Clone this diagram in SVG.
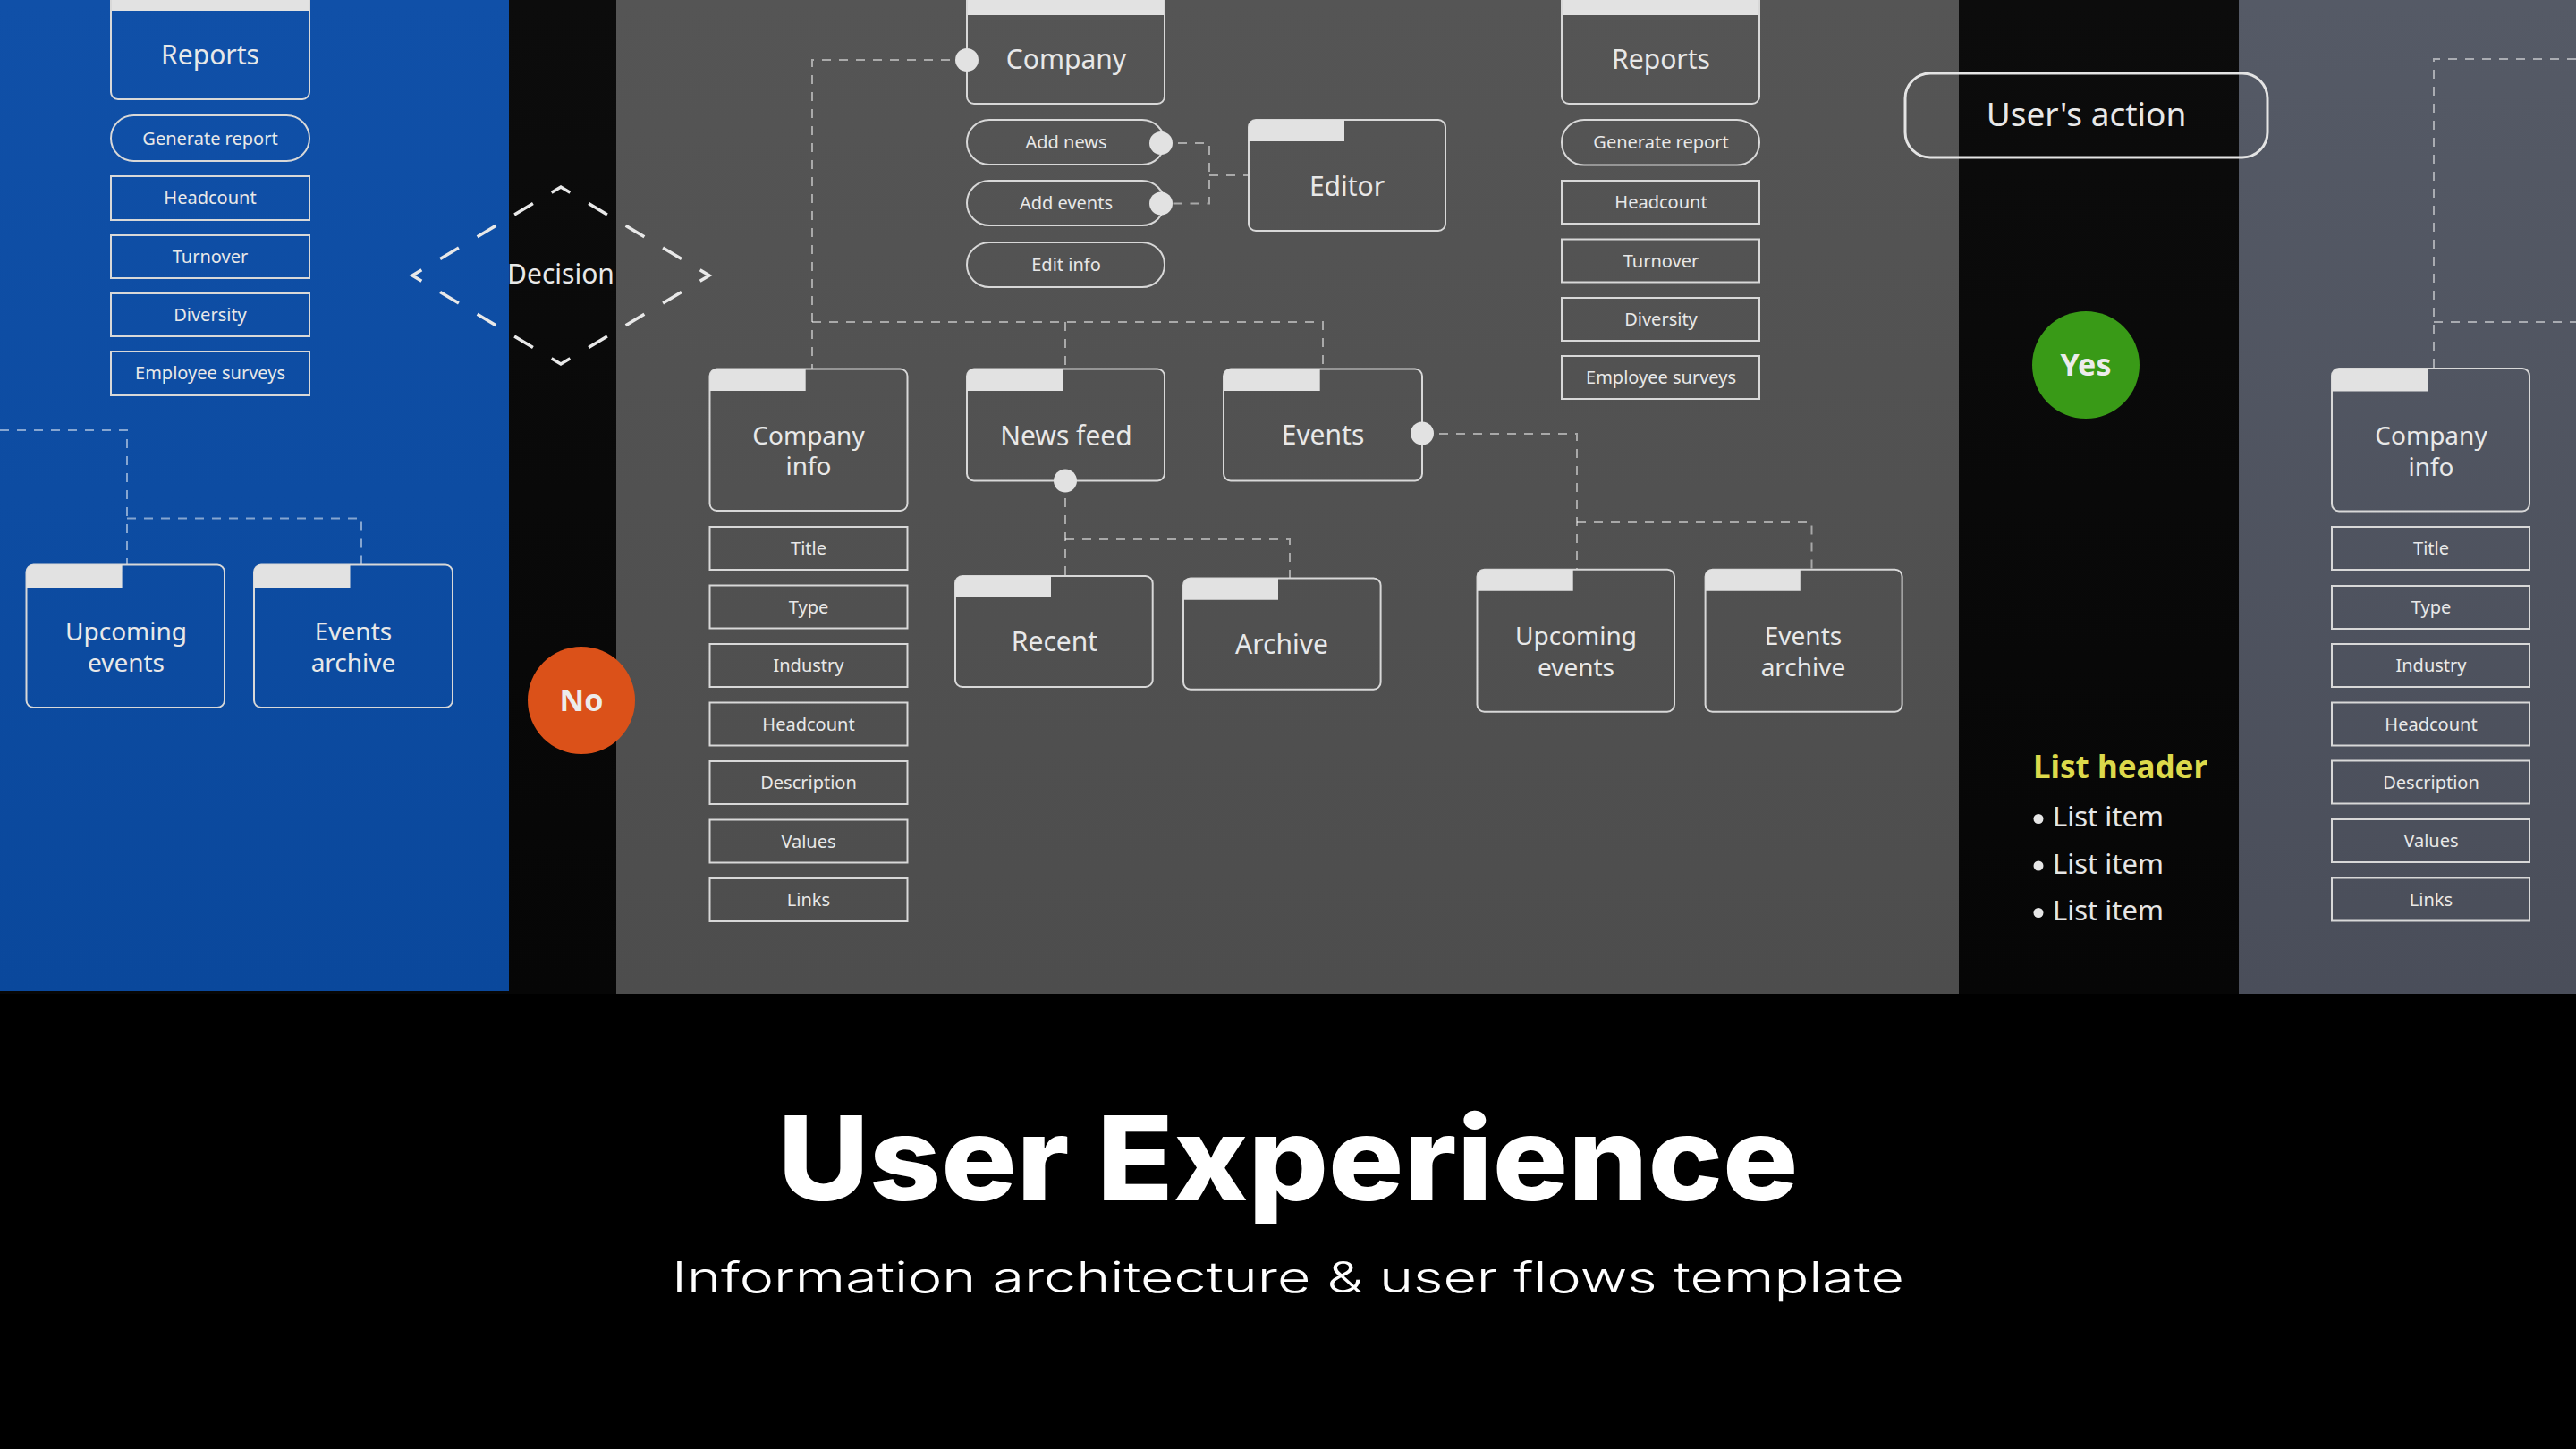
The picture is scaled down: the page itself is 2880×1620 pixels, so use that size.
<svg xmlns="http://www.w3.org/2000/svg" width="2880" height="1620" viewBox="0 0 2880 1620">
<defs>
<linearGradient id="gBlue" x1="0" y1="0" x2="0" y2="1"><stop offset="0" stop-color="#1050a8"/><stop offset="1" stop-color="#0a489c"/></linearGradient>
<linearGradient id="gGrey" x1="0" y1="0" x2="0" y2="1"><stop offset="0" stop-color="#555555"/><stop offset="1" stop-color="#4d4d4d"/></linearGradient>
<linearGradient id="gSlate" x1="0" y1="0" x2="0" y2="1"><stop offset="0" stop-color="#555a66"/><stop offset="1" stop-color="#4a4e5a"/></linearGradient>
<linearGradient id="gBlack" x1="0" y1="0" x2="0" y2="1"><stop offset="0" stop-color="#0c0c0c"/><stop offset="1" stop-color="#060606"/></linearGradient>
</defs>
<style>
.box{fill:none;stroke:#d8d8d8;stroke-width:2}
.tab{fill:#e2e2e2}
.dot{fill:#e2e2e2}
.lbl{font-family:"Noto Sans","Open Sans",sans-serif;fill:#e8e8e8;text-anchor:middle}
.big{font-size:30px}
.two{font-size:28px}
.sm{font-size:20px}
.conn{fill:none;stroke:#ffffff;stroke-opacity:0.5;stroke-width:2;stroke-dasharray:10 9}
.badge{font-family:"Noto Sans","Open Sans",sans-serif;font-weight:700;font-size:34px;fill:#ececec;text-anchor:middle}
</style>

<!-- backgrounds -->
<rect x="0" y="0" width="2880" height="1620" fill="#000000"/>
<rect x="0" y="0" width="2880" height="1111" fill="url(#gBlack)"/>
<rect x="0" y="0" width="569" height="1108" fill="url(#gBlue)"/>
<rect x="689" y="0" width="1501" height="1111" fill="url(#gGrey)"/>
<rect x="2503" y="0" width="377" height="1111" fill="url(#gSlate)"/>

<!-- connectors -->
<g id="connectors">
<path class="conn" d="M0,481 H142 V631"/>
<path class="conn" d="M142,579.5 H404 V631"/>
<path class="conn" d="M1081,67 H908 V412"/>
<path class="conn" d="M908,360 H1479 V412"/>
<path class="conn" d="M1191,360 V412"/>
<path class="conn" d="M1298,160 H1352 V227.5 H1298"/>
<path class="conn" d="M1352,196 H1396"/>
<path class="conn" d="M1191,538 V644"/>
<path class="conn" d="M1191,603 H1442 V646"/>
<path class="conn" d="M1590,485 H1763 V636"/>
<path class="conn" d="M1763,584 H2025.5 V636"/>
<path class="conn" d="M2880,66 H2721 V412"/>
<path class="conn" d="M2721,360 H2880"/>
</g>

<!-- Blue panel -->
<g id="reports-blue">
<rect class="box" x="124" y="-40" width="222" height="151" rx="8"/>
<rect class="tab" x="125" y="0" width="220" height="12"/>
<text class="lbl big" x="235" y="72">Reports</text>
</g>
<g id="generate-report-blue">
<rect class="box" x="124" y="129" width="222" height="51" rx="25.5"/>
<text class="lbl sm" x="235" y="162">Generate report</text>
</g>
<g id="headcount-blue"><rect class="box" x="124" y="197" width="222" height="49"/><text class="lbl sm" x="235" y="228">Headcount</text></g>
<g id="turnover-blue"><rect class="box" x="124" y="263" width="222" height="48"/><text class="lbl sm" x="235" y="293.5">Turnover</text></g>
<g id="diversity-blue"><rect class="box" x="124" y="328" width="222" height="48"/><text class="lbl sm" x="235" y="358.5">Diversity</text></g>
<g id="surveys-blue"><rect class="box" x="124" y="393" width="222" height="49"/><text class="lbl sm" x="235" y="424">Employee surveys</text></g>
<g id="upcoming-blue">
<rect class="box" x="29.5" y="631.5" width="221.5" height="159.5" rx="8"/>
<path class="tab" d="M29.5,657 V639.5 A8,8 0 0 1 37.5,631.5 H136.6 V657 Z"/>
<text class="lbl two" x="141" y="716">Upcoming<tspan x="141" y="751">events</tspan></text>
</g>
<g id="archive-blue">
<rect class="box" x="284" y="631.5" width="222" height="159.5" rx="8"/>
<path class="tab" d="M284,657 V639.5 A8,8 0 0 1 292,631.5 H391.5 V657 Z"/>
<text class="lbl two" x="395" y="716">Events<tspan x="395" y="751">archive</tspan></text>
</g>

<!-- Decision -->
<g id="decision">
<path d="M627,209 L793,308 L627,407 L461,308 Z" fill="none" stroke="#e8e8e8" stroke-width="3.5" stroke-dasharray="24.16 24.16" stroke-dashoffset="12.08"/>
<text class="lbl" x="627" y="317" font-size="30">Decision</text>
</g>

<!-- No -->
<g id="no">
<circle cx="650" cy="783" r="60" fill="#db5119"/>
<text class="badge" x="650" y="795">No</text>
</g>

<!-- Grey panel -->
<g id="company">
<rect class="box" x="1081" y="-40" width="221" height="156" rx="8"/>
<rect class="tab" x="1082" y="0" width="219" height="17"/>
<text class="lbl big" x="1192" y="77">Company</text>
<circle class="dot" cx="1081" cy="67" r="13"/>
</g>
<g id="add-news">
<rect class="box" x="1081" y="134" width="221" height="50" rx="25"/>
<text class="lbl sm" x="1192" y="166">Add news</text>
<circle class="dot" cx="1298" cy="160" r="13"/>
</g>
<g id="add-events">
<rect class="box" x="1081" y="202" width="221" height="50" rx="25"/>
<text class="lbl sm" x="1192" y="234">Add events</text>
<circle class="dot" cx="1298" cy="227.5" r="13"/>
</g>
<g id="edit-info">
<rect class="box" x="1081" y="271" width="221" height="50" rx="25"/>
<text class="lbl sm" x="1192" y="303">Edit info</text>
</g>
<g id="editor">
<rect class="box" x="1396" y="134" width="220" height="124" rx="8"/>
<path class="tab" d="M1396,158 V142 A8,8 0 0 1 1404,134 H1503 V158 Z"/>
<text class="lbl big" x="1506" y="219">Editor</text>
</g>
<g id="company-info">
<rect class="box" x="793.5" y="412.5" width="221" height="158.5" rx="8"/>
<path class="tab" d="M793.5,437 V420.5 A8,8 0 0 1 801.5,412.5 H900.7 V437 Z"/>
<text class="lbl two" x="904" y="496.5">Company<tspan x="904" y="531">info</tspan></text>
</g>
<g id="ci-title"><rect class="box" x="793.5" y="589" width="221" height="48"/><text class="lbl sm" x="904" y="620">Title</text></g>
<g id="ci-type"><rect class="box" x="793.5" y="654.5" width="221" height="48"/><text class="lbl sm" x="904" y="685.5">Type</text></g>
<g id="ci-industry"><rect class="box" x="793.5" y="720" width="221" height="48"/><text class="lbl sm" x="904" y="751">Industry</text></g>
<g id="ci-headcount"><rect class="box" x="793.5" y="785.5" width="221" height="48"/><text class="lbl sm" x="904" y="816.5">Headcount</text></g>
<g id="ci-description"><rect class="box" x="793.5" y="851" width="221" height="48"/><text class="lbl sm" x="904" y="882">Description</text></g>
<g id="ci-values"><rect class="box" x="793.5" y="916.5" width="221" height="48"/><text class="lbl sm" x="904" y="947.5">Values</text></g>
<g id="ci-links"><rect class="box" x="793.5" y="982" width="221" height="48"/><text class="lbl sm" x="904" y="1013">Links</text></g>
<g id="news-feed">
<rect class="box" x="1081" y="412.5" width="221" height="125" rx="8"/>
<path class="tab" d="M1081,437 V420.5 A8,8 0 0 1 1089,412.5 H1188.6 V437 Z"/>
<text class="lbl big" x="1192" y="497.5">News feed</text>
<circle class="dot" cx="1191" cy="537.5" r="13"/>
</g>
<g id="events">
<rect class="box" x="1368" y="412.5" width="222" height="125" rx="8"/>
<path class="tab" d="M1368,437 V420.5 A8,8 0 0 1 1376,412.5 H1475.7 V437 Z"/>
<text class="lbl big" x="1479" y="497">Events</text>
<circle class="dot" cx="1590" cy="484.5" r="13"/>
</g>
<g id="recent">
<rect class="box" x="1068" y="644" width="220.7" height="124" rx="8"/>
<path class="tab" d="M1068,668 V652 A8,8 0 0 1 1076,644 H1175 V668 Z"/>
<text class="lbl big" x="1179" y="728">Recent</text>
</g>
<g id="archive">
<rect class="box" x="1323" y="646.4" width="220.6" height="124.3" rx="8"/>
<path class="tab" d="M1323,670.7 V654.4 A8,8 0 0 1 1331,646.4 H1429 V670.7 Z"/>
<text class="lbl big" x="1433" y="730.7">Archive</text>
</g>
<g id="upcoming-grey">
<rect class="box" x="1651.5" y="636.7" width="220.5" height="159" rx="8"/>
<path class="tab" d="M1651.5,660.7 V644.7 A8,8 0 0 1 1659.5,636.7 H1758.7 V660.7 Z"/>
<text class="lbl two" x="1762" y="721">Upcoming<tspan x="1762" y="756">events</tspan></text>
</g>
<g id="archive-grey">
<rect class="box" x="1906.6" y="636.7" width="220" height="159" rx="8"/>
<path class="tab" d="M1906.6,660.7 V644.7 A8,8 0 0 1 1914.6,636.7 H2012.8 V660.7 Z"/>
<text class="lbl two" x="2016" y="721">Events<tspan x="2016" y="756">archive</tspan></text>
</g>
<g id="reports-grey">
<rect class="box" x="1746" y="-40" width="221" height="156" rx="8"/>
<rect class="tab" x="1747" y="0" width="219" height="17"/>
<text class="lbl big" x="1857" y="77">Reports</text>
</g>
<g id="generate-report-grey">
<rect class="box" x="1746" y="134" width="221" height="50.5" rx="25"/>
<text class="lbl sm" x="1857" y="166">Generate report</text>
</g>
<g id="headcount-grey"><rect class="box" x="1746" y="202" width="221" height="48"/><text class="lbl sm" x="1857" y="233">Headcount</text></g>
<g id="turnover-grey"><rect class="box" x="1746" y="267.5" width="221" height="48"/><text class="lbl sm" x="1857" y="298.5">Turnover</text></g>
<g id="diversity-grey"><rect class="box" x="1746" y="333" width="221" height="48"/><text class="lbl sm" x="1857" y="364">Diversity</text></g>
<g id="surveys-grey"><rect class="box" x="1746" y="398" width="221" height="48"/><text class="lbl sm" x="1857" y="429">Employee surveys</text></g>

<!-- right black strip -->
<g id="users-action">
<rect x="2130" y="82" width="405" height="94" rx="28" fill="none" stroke="#e4e4e4" stroke-width="3"/>
<text class="lbl" x="2332.5" y="141" font-size="37">User's action</text>
</g>
<g id="yes">
<circle cx="2332" cy="408" r="60" fill="#399a17"/>
<text class="badge" x="2332" y="420">Yes</text>
</g>
<g id="list">
<text x="2273" y="870" font-family="'Noto Sans','Open Sans',sans-serif" font-weight="700" font-size="35" fill="#dcd94b">List header</text>
<circle cx="2279" cy="915.5" r="5.5" fill="#e6e6e6"/>
<circle cx="2279" cy="968" r="5.5" fill="#e6e6e6"/>
<circle cx="2279" cy="1020.5" r="5.5" fill="#e6e6e6"/>
<g font-family="'Noto Sans','Open Sans',sans-serif" font-size="31" fill="#e6e6e6">
<text x="2295" y="924">List item</text>
<text x="2295" y="977">List item</text>
<text x="2295" y="1029">List item</text>
</g>
</g>

<!-- slate panel -->
<g id="company-info-right">
<rect class="box" x="2607" y="412" width="221" height="159.5" rx="8"/>
<path class="tab" d="M2607,437.5 V420 A8,8 0 0 1 2615,412 H2714 V437.5 Z"/>
<text class="lbl two" x="2718" y="497">Company<tspan x="2718" y="532">info</tspan></text>
</g>
<g id="r-title"><rect class="box" x="2607" y="589" width="221" height="48"/><text class="lbl sm" x="2718" y="620">Title</text></g>
<g id="r-type"><rect class="box" x="2607" y="655" width="221" height="48"/><text class="lbl sm" x="2718" y="686">Type</text></g>
<g id="r-industry"><rect class="box" x="2607" y="720" width="221" height="48"/><text class="lbl sm" x="2718" y="751">Industry</text></g>
<g id="r-headcount"><rect class="box" x="2607" y="785.5" width="221" height="48"/><text class="lbl sm" x="2718" y="816.5">Headcount</text></g>
<g id="r-description"><rect class="box" x="2607" y="850.5" width="221" height="48"/><text class="lbl sm" x="2718" y="881.5">Description</text></g>
<g id="r-values"><rect class="box" x="2607" y="916" width="221" height="48"/><text class="lbl sm" x="2718" y="947">Values</text></g>
<g id="r-links"><rect class="box" x="2607" y="981.5" width="221" height="48"/><text class="lbl sm" x="2718" y="1012.5">Links</text></g>

<!-- title -->
<g id="title">
<text x="1440" y="1342" text-anchor="middle" font-family="Inter,'Noto Sans',sans-serif" font-weight="800" font-size="130" fill="#ffffff" textLength="1141" lengthAdjust="spacingAndGlyphs">User Experience</text>
<text x="1440" y="1445" text-anchor="middle" font-family="Inter,'Noto Sans',sans-serif" font-weight="300" font-size="48" fill="#ffffff" textLength="1378" lengthAdjust="spacingAndGlyphs">Information architecture &amp; user flows template</text>
</g>
</svg>
